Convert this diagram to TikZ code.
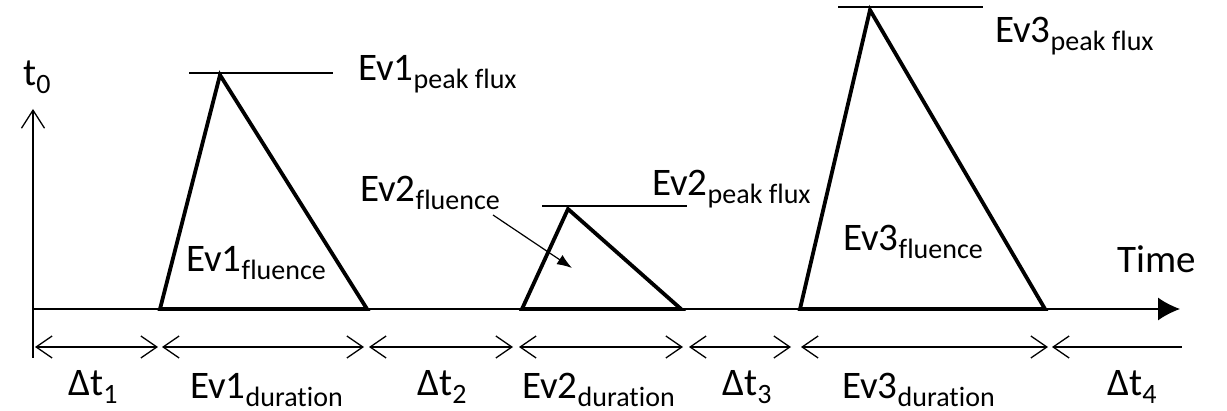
\documentclass[tikz,border=0pt]{standalone}
\usepackage{fontspec}
\setmainfont{Carlito}[Ligatures=NoCommon]
\usetikzlibrary{arrows.meta}
\newcommand\mysub[1]{\raisebox{-0.19em}{\fontsize{28}{28}\selectfont #1}}
\begin{document}
\begin{tikzpicture}[x=1pt,y=-1pt,
  lbl/.style={anchor=base west,inner sep=0pt,font=\fontsize{39}{39}\selectfont},
  tri/.style={line width=3.8pt,line join=miter,miter limit=6},
  peakline/.style={line width=1.4pt},
  axisline/.style={line width=1.3pt},
  dur/.style={line width=1.3pt,{Straight Barb[length=16pt,width=22pt,line width=1.3pt]}-{Straight Barb[length=16pt,width=22pt,line width=1.3pt]}},
  durleft/.style={line width=1.3pt,{Straight Barb[length=16pt,width=22pt,line width=1.3pt]}-},
  ptr/.style={line width=1.2pt,-{Latex[length=15pt,width=11pt]}}]
\useasboundingbox (0,0) rectangle (1227,411);
% axes
\coordinate (o) at (33,309);
\coordinate (vb) at (33,358);
\coordinate (vt) at (33,109);
\coordinate (hend) at (1180,309);
\draw[axisline,-{Straight Barb[length=18pt,width=23pt,line width=1.3pt]}] (vb) -- (vt);
\draw[axisline,-{Latex[length=22pt,width=23pt]}] (o) -- (hend);
% triangles
\coordinate (a1) at (160,309); \coordinate (p1) at (220,75); \coordinate (b1) at (367,309);
\coordinate (a2) at (522,309); \coordinate (p2) at (568,209); \coordinate (b2) at (681,309);
\coordinate (a3) at (800,309); \coordinate (p3) at (870,10); \coordinate (b3) at (1045,309);
\draw[tri] (a1) -- (p1) -- (b1) -- cycle;
\draw[tri] (a2) -- (p2) -- (b2) -- cycle;
\draw[tri] (a3) -- (p3) -- (b3) -- cycle;
% peak lines
\coordinate (l1a) at (189,73); \coordinate (l1b) at (333,73);
\coordinate (l2a) at (542,206); \coordinate (l2b) at (687,206);
\coordinate (l3a) at (838,7); \coordinate (l3b) at (983,7);
\draw[peakline] (l1a) -- (l1b);
\draw[peakline] (l2a) -- (l2b);
\draw[peakline] (l3a) -- (l3b);
% labels
\node[lbl] (t0) at (23,86) {t\mysub{0}};
\node[lbl] (pk1) at (358,81) {Ev1\mysub{peak flux}};
\node[lbl] (pk2) at (652,196) {Ev2\mysub{peak flux}};
\node[lbl] (pk3) at (995,43) {Ev3\mysub{peak flux}};
\node[lbl] (fl1) at (186,272) {Ev1\mysub{fluence}};
\node[lbl] (fl2) at (360,202) {Ev2\mysub{fluence}};
\node[lbl] (fl3) at (843,251) {Ev3\mysub{fluence}};
\node[lbl] (time) at (1117,273) {Time};
% pointer
\coordinate (ps) at (493,215);
\coordinate (pe) at (572,268);
\draw[ptr] (ps) -- (pe);
% durations
\coordinate (d0) at (35,347); \coordinate (d1) at (158,347);
\coordinate (d2) at (162,347); \coordinate (d3) at (364,347);
\coordinate (d4) at (369,347); \coordinate (d5) at (513,347);
\coordinate (d6) at (519,347); \coordinate (d7) at (683,347);
\coordinate (d8) at (689,347); \coordinate (d9) at (791,347);
\coordinate (d10) at (801,347); \coordinate (d11) at (1048,347);
\coordinate (d12) at (1052,347); \coordinate (d13) at (1182,347);
\draw[dur] (d0) -- (d1);
\draw[dur] (d2) -- (d3);
\draw[dur] (d4) -- (d5);
\draw[dur] (d6) -- (d7);
\draw[dur] (d8) -- (d9);
\draw[dur] (d10) -- (d11);
\draw[durleft] (d12) -- (d13);
\node[lbl] (dt1) at (68,396) {Δt\mysub{1}};
\node[lbl] (du1) at (190,399) {Ev1\mysub{duration}};
\node[lbl] (dt2) at (417,396) {Δt\mysub{2}};
\node[lbl] (du2) at (522,399) {Ev2\mysub{duration}};
\node[lbl] (dt3) at (722,396) {Δt\mysub{3}};
\node[lbl] (du3) at (842,399) {Ev3\mysub{duration}};
\node[lbl] (dt4) at (1107,396) {Δt\mysub{4}};
\end{tikzpicture}
\end{document}
